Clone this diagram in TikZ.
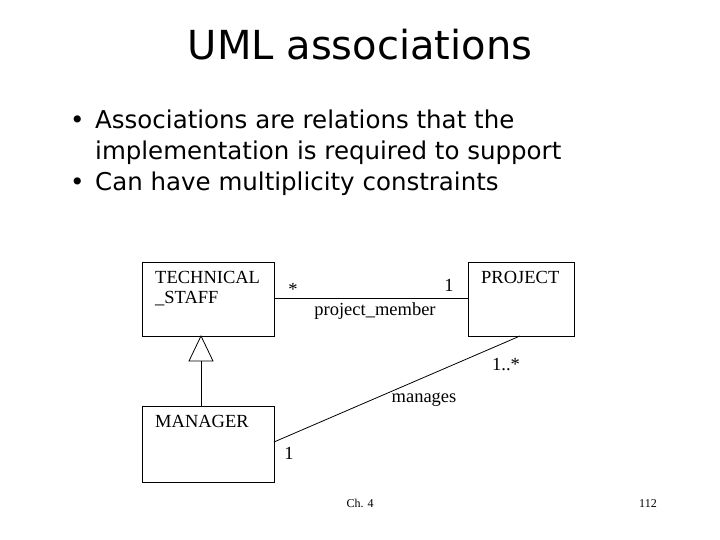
\documentclass[tikz,border=0pt]{standalone}
\usepackage{fontspec}
\setmainfont{Liberation Serif}
\newfontfamily\titlefont{DejaVu Sans}
\newfontfamily\bodyfont{DejaVu Sans}
\begin{document}
\begin{tikzpicture}[x=1pt,y=-1pt,
  cls/.style={draw,line width=0.8pt},
  lbl/.style={font=\fontsize{18.5}{20}\selectfont,inner sep=0pt},
  ln/.style={line width=0.8pt}]
\useasboundingbox (0,0) rectangle (720,540);
\node[font=\titlefont\fontsize{40}{44}\selectfont] (title) at (360,45) {UML associations};
\node[anchor=north west,inner sep=0pt,align=left,font=\bodyfont\fontsize{24.5}{31}\selectfont] (b) at (70,110)
 {\makebox[25pt][l]{•}Associations are relations that the\\
  \hspace*{25pt}implementation is required to support\\
  \makebox[25pt][l]{•}Can have multiplicity constraints};
\draw[cls] (142,262) rectangle (274,336);
\draw[cls] (468,262) rectangle (574,336);
\draw[cls] (142,406) rectangle (274,482);
\node[lbl,anchor=north west,align=left] (tsl) at (155,271) {TECHNICAL\\\_STAFF};
\node[lbl,anchor=north west] (pl) at (481,271) {PROJECT};
\node[lbl,anchor=north west] (ml) at (155,415) {MANAGER};
\coordinate (tsr) at (274,298);
\coordinate (pjl) at (468,298);
\coordinate (tri) at (201,336);
\coordinate (mt) at (201,406);
\coordinate (mr) at (274,442);
\coordinate (pb) at (520,336);
\draw[ln] (tsr) -- (pjl);
\draw[ln] (mr) -- (pb);
\draw[ln,fill=white] (tri) -- (189,361) -- (213,361) -- cycle;
\draw[ln] (201,361) -- (mt);
\node[lbl] (s1) at (293,289) {*};
\node[lbl] (o1) at (449,285) {1};
\node[lbl] (pm) at (375,311) {project\_member};
\node[lbl] (m1) at (506,365) {1..*};
\node[lbl] (mg) at (424,400) {manages};
\node[lbl] (o2) at (289,453) {1};
\node[anchor=base] (ch) at (360,507) {\fontsize{12}{14}\selectfont Ch. 4};
\node[anchor=base] (pg) at (648,507) {\fontsize{12}{14}\selectfont 112};
\end{tikzpicture}
\end{document}
